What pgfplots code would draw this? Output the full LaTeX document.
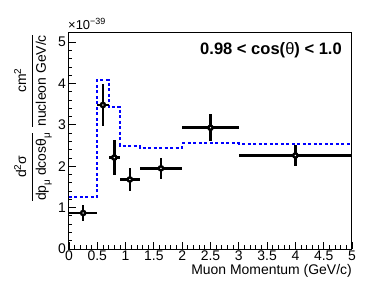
\documentclass[border=0pt]{standalone}
\usepackage{pgfplots}
\pgfplotsset{compat=1.18}
\usepackage{fontspec}
\setmainfont{Liberation Sans}
\begin{document}
\fontsize{14}{16}\selectfont
\begin{tikzpicture}[x=1bp,y=1bp]
\useasboundingbox (-69,-34) rectangle (318,249);
\begin{axis}[
  at={(0,0)}, anchor=south west,
  scale only axis, width=283bp, height=216bp,
  xmin=0, xmax=5, ymin=0, ymax=5.22,
  xtick={0,0.5,...,5}, ytick={0,1,...,5},
  xticklabels={0,0.5,1,1.5,2,2.5,3,3.5,4,4.5,5},
  minor x tick num=4, minor y tick num=4,
  tick align=inside,
  xtick pos=bottom, ytick pos=left,
  x tick style={black, line width=0.8bp},
  y tick style={black, line width=0.8bp},
  major tick length=7bp, minor tick length=3.5bp,
  axis line style={black, line width=1bp},
  tick label style={font=\fontsize{14}{16}\selectfont},
  /pgf/number format/assume math mode=true,
  xticklabel style={inner sep=0pt, yshift=-2bp},
  yticklabel style={inner sep=0pt, xshift=-3bp},
  scaled ticks=false,
  clip=false,
]
\addplot[blue, line width=2bp, dash pattern=on 3bp off 2.5bp, const plot mark left] coordinates {
 (0,1.26) (0.5,4.09) (0.7,3.44) (0.9,2.50) (1.25,2.45) (2.0,2.55) (3.0,2.54) (5.0,2.54)};
\addplot[black, line width=2.6bp, only marks, mark=none,
  error bars/.cd, x dir=both, y dir=both, x explicit, y explicit,
  error mark=none, error bar style={line width=2.6bp, black}]
 coordinates {
 (0.25,0.87) +- (0.25,0.19)
 (0.6,3.48) +- (0.1,0.5)
 (0.8,2.21) +- (0.1,0.42)
 (1.075,1.68) +- (0.175,0.28)
 (1.625,1.95) +- (0.375,0.25)
 (2.5,2.93) +- (0.5,0.33)
 (4.0,2.26) +- (1.0,0.26)
 };
\addplot[only marks, mark=*, mark size=0.45bp, white, mark options={draw=none, fill=white}] coordinates {
 (0.25,0.87) (0.6,3.48) (0.8,2.21) (1.075,1.68) (1.625,1.95) (2.5,2.93) (4.0,2.26)};
\end{axis}
\node[anchor=base east, inner sep=0] at (283,-25) {Muon Momentum (GeV/c)};
\node[anchor=east, inner sep=0, font=\fontsize{16.6}{18}\bfseries] at (273,199) {0.98 < cos(\textmd{θ}) < 1.0};
\node[anchor=base west, inner sep=0, font=\fontsize{13}{14}\selectfont] at (-1,220) {×10\raisebox{5bp}{\fontsize{9}{10}\selectfont −39}};
\node[anchor=center, rotate=90, inner sep=0] at (-36,131) {%
$\displaystyle\frac{\mbox{d\raisebox{5bp}{\fontsize{10}{10}\selectfont 2}σ}}{\mbox{dp\raisebox{-4bp}{\fontsize{10}{10}\selectfont μ} dcosθ\raisebox{-4bp}{\fontsize{10}{10}\selectfont μ}}}%
\;\frac{\mbox{cm\raisebox{5bp}{\fontsize{10}{10}\selectfont 2}}}{\mbox{nucleon GeV/c}}$};
\end{tikzpicture}
\end{document}
